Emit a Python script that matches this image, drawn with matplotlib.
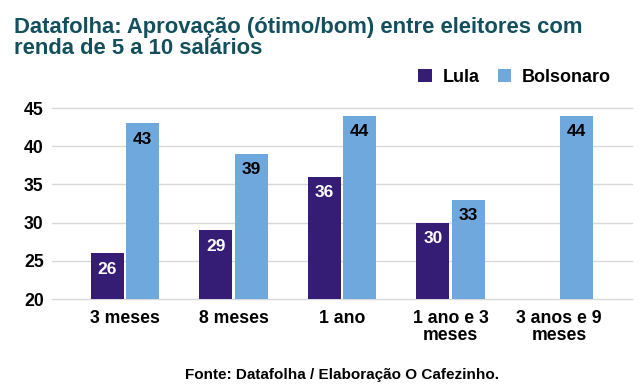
import numpy as np
import matplotlib.pyplot as plt

plt.rcParams['font.family'] = ['Liberation Sans', 'DejaVu Sans']
plt.rcParams['font.weight'] = 'bold'

categories = ['3 meses', '8 meses', '1 ano', '1 ano e 3\nmeses', '3 anos e 9\nmeses']
lula = [26, 29, 36, 30, np.nan]
bolsonaro = [43, 39, 44, 33, 44]
yticks = [20, 25, 30, 35, 40, 45]

lula_color = '#351c75'
bolso_color = '#6fa8dc'

fig = plt.figure(figsize=(6.39, 3.90), dpi=100)
ax = fig.add_axes([52 / 639, 1 - 299 / 390, 580 / 639, 191 / 390])

x = np.arange(len(categories))
w = 0.305
gap = 0.01
b1 = ax.bar(x - w / 2 - gap, lula, w, color=lula_color, zorder=3)
b2 = ax.bar(x + w / 2 + gap, bolsonaro, w, color=bolso_color, zorder=3)

for bars, vals, tc in [(b1, lula, 'white'), (b2, bolsonaro, 'black')]:
    for rect, v in zip(bars, vals):
        if np.isnan(v):
            continue
        ax.annotate(str(v), (rect.get_x() + rect.get_width() / 2, v),
                    xytext=(0, -11.5), textcoords='offset points',
                    ha='center', va='center', color=tc,
                    fontsize=12.5, fontweight='bold', zorder=4)

ax.set_xlim(-0.673, len(categories) - 1 + 0.673)
ax.set_ylim(20, 45)
ax.set_yticks(yticks)
ax.set_xticks(x)
ax.set_xticklabels(categories, linespacing=1.0)
ax.tick_params(axis='both', length=0, labelsize=12.7)
ax.tick_params(axis='y', pad=6)
ax.tick_params(axis='x', pad=8)
ax.grid(axis='y', color='#d9d9d9', linewidth=1, zorder=0)
for sp in ax.spines.values():
    sp.set_visible(False)
for gl in ax.get_ygridlines():
    gl.set_clip_on(False)

fig.text(14 / 639, 1 - 38 / 390, 'Datafolha: Aprovação (ótimo/bom) entre eleitores com\nrenda de 5 a 10 salários',
         ha='left', va='center', fontsize=15.8, fontweight='bold', color='#134f5c', linespacing=0.95)

leg = fig.legend(handles=[b1, b2], labels=['Lula', 'Bolsonaro'], loc='center right',
                 bbox_to_anchor=(611 / 639, 1 - 77 / 390), ncol=2, frameon=False,
                 fontsize=13, handlelength=0.75, handleheight=0.75, handletextpad=0.6,
                 columnspacing=1.0, borderaxespad=0, borderpad=0)

fig.text(342 / 639, 1 - 375 / 390, 'Fonte: Datafolha / Elaboração O Cafezinho.',
         ha='center', va='center', fontsize=11, fontweight='bold', color='black')

fig.savefig('out.png', dpi=100)
